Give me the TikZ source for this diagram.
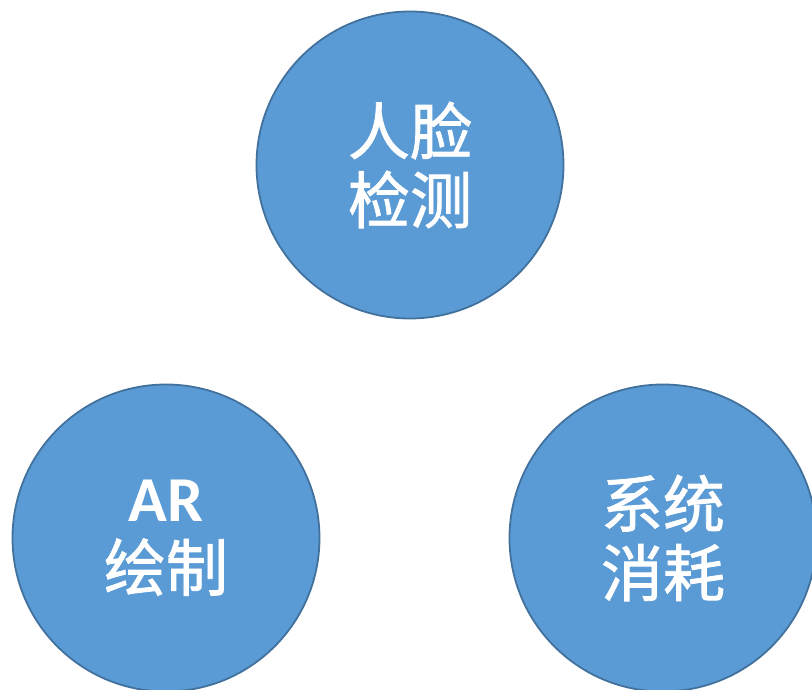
\documentclass[tikz,border=0pt]{standalone}
\usepackage{fontspec}
\newfontfamily\cjk{Noto Sans CJK SC}[FakeBold=1.3]
\newfontfamily\latinsans{Carlito}
\definecolor{bubblefill}{HTML}{5B9BD5}
\definecolor{bubbleline}{HTML}{41719C}
\begin{document}
\begin{tikzpicture}[x=1pt,y=1pt,
  bubble/.style={circle, draw=bubbleline, fill=bubblefill, line width=1.8pt,
    minimum size=307pt, inner sep=0pt, text=white, align=center,
    font=\cjk\fontsize{62}{69}\selectfont}]
\useasboundingbox (0,0) rectangle (812,690);
\node[bubble] (face) at (410,525) {人脸\\检测};
\node[bubble] (ar) at (166,152) {{\latinsans\bfseries\fontsize{64}{69}\selectfont AR}\\绘制};
\node[bubble] (sys) at (663,152) {系统\\消耗};
\end{tikzpicture}
\end{document}
